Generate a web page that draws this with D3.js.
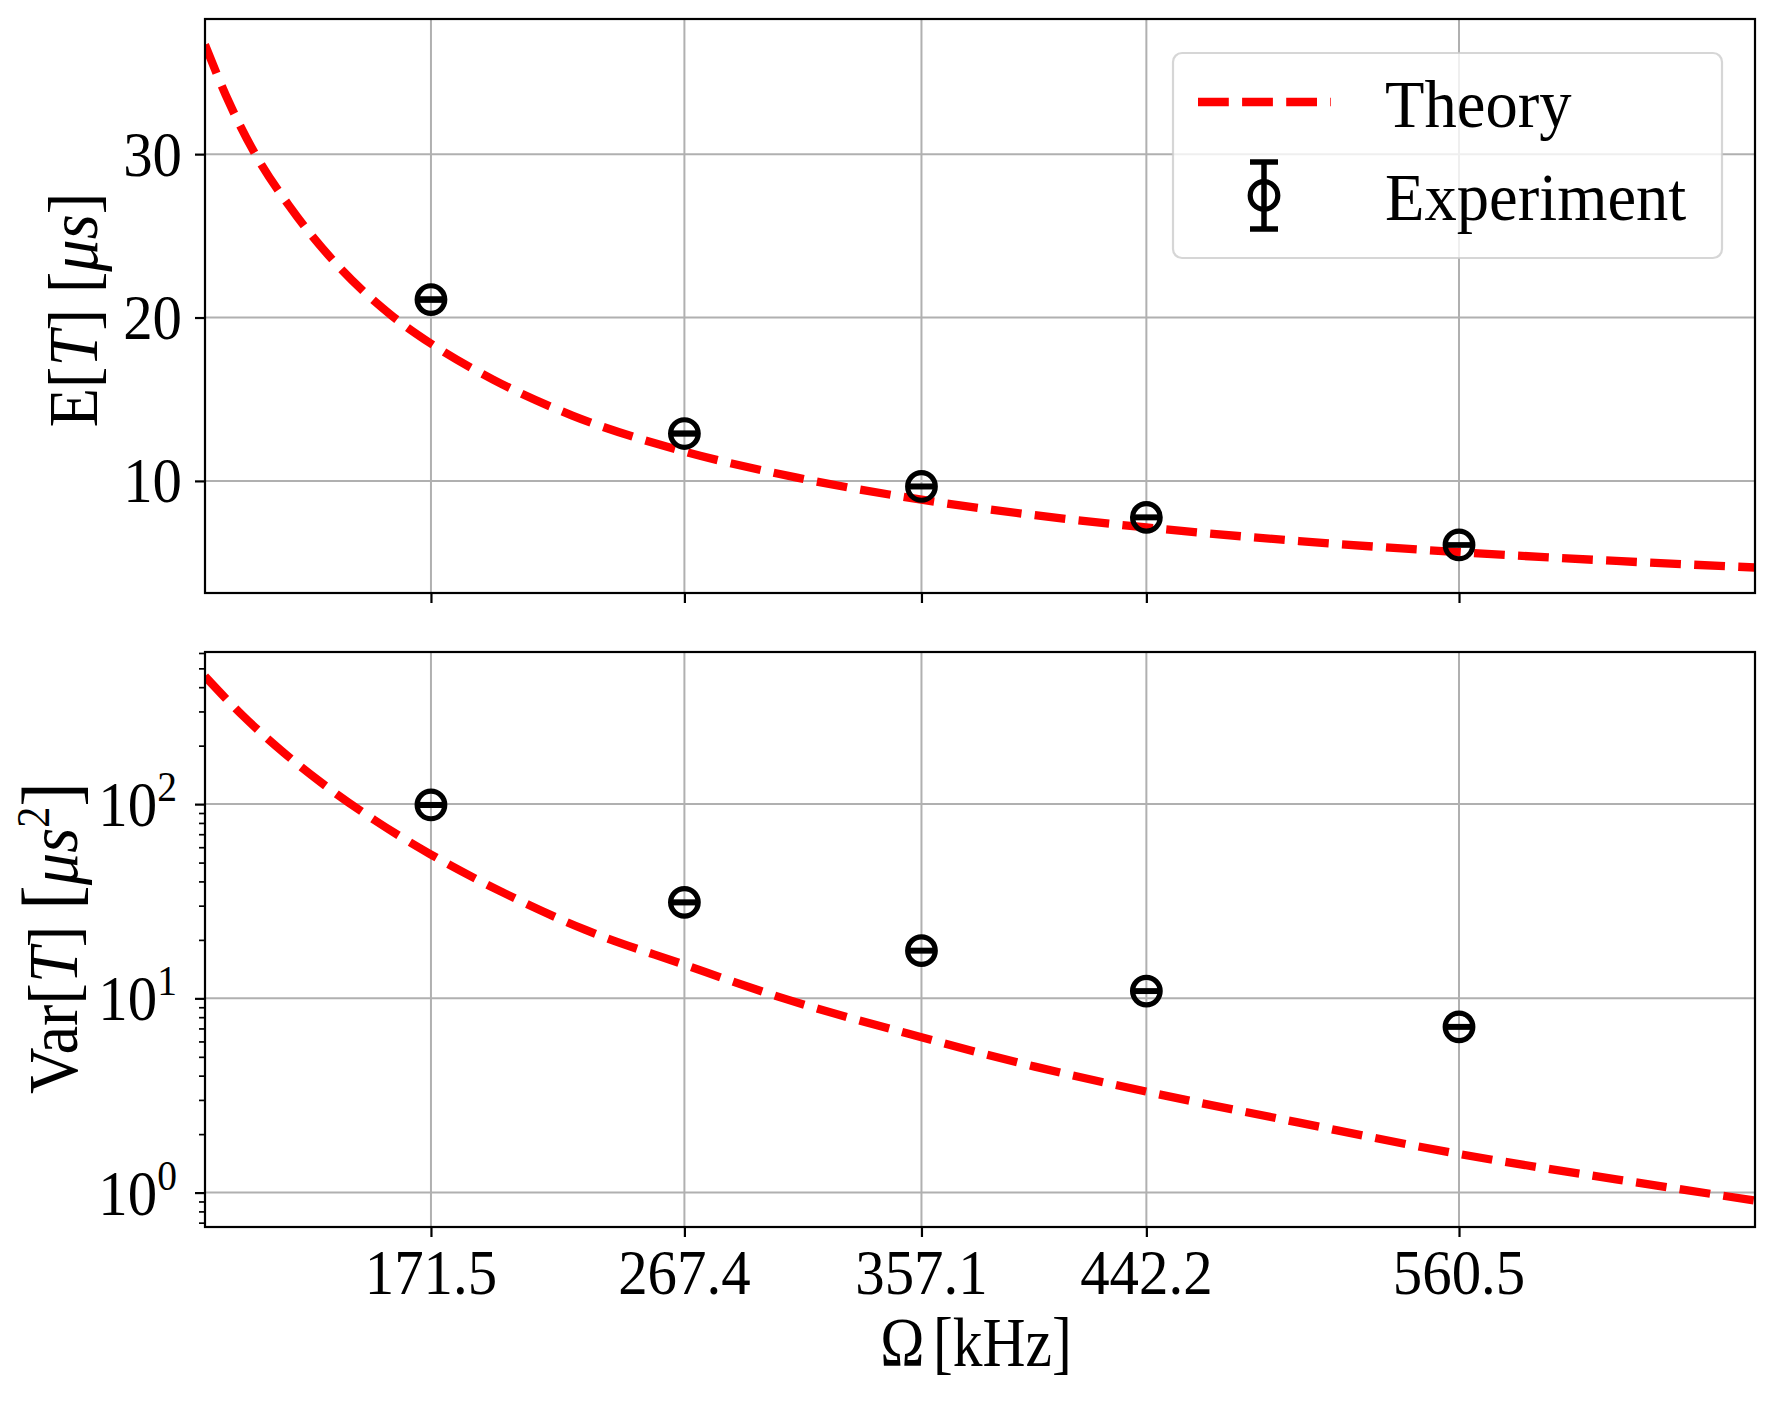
<!DOCTYPE html>
<html>
<head>
<meta charset="utf-8">
<script src="https://cdn.jsdelivr.net/npm/d3@7"></script>
<style>
  body { margin: 0; background: #fff; }
  text { font-family: 'Liberation Serif', 'DejaVu Serif', serif; fill: #000; }
</style>
</head>
<body>
<svg id="chart"></svg>
<script>
// x positions of the measurements (kHz), also the x tick labels
var omegaTicks = [171.5, 267.4, 357.1, 442.2, 560.5];
var omegaLabels = ['171.5', '267.4', '357.1', '442.2', '560.5'];

// experiment
var expMean = [21.1, 12.9, 9.66, 7.77, 6.08];
var expMeanErr = [0.05, 0.04, 0.03, 0.03, 0.02];
var expVar = [99, 31.2, 17.6, 10.9, 7.13];
var expVarErr = [0.6, 0.2, 0.1, 0.06, 0.04];

// theory curve
var theoryOmega = [86, 95, 105, 118, 135, 156, 171.5, 195, 225, 267.4, 310, 357.1, 400, 442.2, 500, 560.5, 620, 672.5];
var theoryMean = [36.7, 33.2, 30.0, 26.8, 23.4, 20.2, 18.4, 16.2, 14.0, 11.8, 10.2, 8.85, 7.9, 7.15, 6.32, 5.64, 5.10, 4.70];
var theoryVarOmega = [86, 100, 115, 130, 150, 171.5, 200, 230, 267.4, 300, 357.1, 400, 442.2, 500, 560.5, 620, 672.5];
var theoryVar = [455, 288, 188, 129, 83, 55, 34.4, 22.5, 14.9, 10.5, 6.3, 4.45, 3.31, 2.29, 1.58, 1.17, 0.91];

var meanTicks = [10, 20, 30];
var varTicks = [1, 10, 100];
var varTickExp = ['0', '1', '2'];

var width = 1774;
var height = 1403;
var left = 205, right = 1755;
var top1 = 19, bottom1 = 593;
var top2 = 652, bottom2 = 1227;

var svg = d3.select('#chart')
    .attr('width', width)
    .attr('height', height);

svg.append('rect').attr('width', width).attr('height', height).attr('fill', '#fff');

var x = d3.scaleLinear().domain([86, 672.5]).range([left, right]);
var yMean = d3.scaleLinear().domain([3.14, 38.27]).range([bottom1, top1]);
var yVar = d3.scaleLog().domain([0.665, 607]).range([bottom2, top2]);

var defs = svg.append('defs');
defs.append('clipPath').attr('id', 'clip1').append('rect')
    .attr('x', left).attr('y', top1).attr('width', right - left).attr('height', bottom1 - top1);
defs.append('clipPath').attr('id', 'clip2').append('rect')
    .attr('x', left).attr('y', top2).attr('width', right - left).attr('height', bottom2 - top2);

function squish(sx) {
    return function(px, py) { return 'translate(' + px + ',' + py + ') scale(' + sx + ',1)'; };
}
var tickT = squish(0.92);

function drawPanel(y, yTop, yBottom, yTicks, clipId, thOmega, thVals, eVals, eErr) {
    var g = svg.append('g');

    // grid
    g.selectAll('.vgrid').data(omegaTicks).enter().append('line')
        .attr('x1', function(d) { return x(d); }).attr('x2', function(d) { return x(d); })
        .attr('y1', yTop).attr('y2', yBottom)
        .attr('stroke', '#b0b0b0').attr('stroke-width', 2);
    g.selectAll('.hgrid').data(yTicks).enter().append('line')
        .attr('x1', left).attr('x2', right)
        .attr('y1', function(d) { return y(d); }).attr('y2', function(d) { return y(d); })
        .attr('stroke', '#b0b0b0').attr('stroke-width', 2);

    var data = g.append('g').attr('clip-path', 'url(#' + clipId + ')');

    var line = d3.line()
        .x(function(d, i) { return x(thOmega[i]); })
        .y(function(d) { return y(d); })
        .curve(d3.curveMonotoneX);

    data.append('path')
        .attr('d', line(thVals))
        .attr('fill', 'none')
        .attr('stroke', '#ff0000')
        .attr('stroke-width', 8.3)
        .attr('stroke-dasharray', '30.8,13.3');

    // error bars + open circles
    var pts = data.selectAll('.pt').data(eVals).enter().append('g');
    pts.append('line')
        .attr('x1', function(d, i) { return x(omegaTicks[i]); })
        .attr('x2', function(d, i) { return x(omegaTicks[i]); })
        .attr('y1', function(d, i) { return y(d - eErr[i]); })
        .attr('y2', function(d, i) { return y(d + eErr[i]); })
        .attr('stroke', '#000').attr('stroke-width', 5.5);
    [-1, 1].forEach(function(s) {
        pts.append('line')
            .attr('x1', function(d, i) { return x(omegaTicks[i]) - 14; })
            .attr('x2', function(d, i) { return x(omegaTicks[i]) + 14; })
            .attr('y1', function(d, i) { return y(d + s * eErr[i]); })
            .attr('y2', function(d, i) { return y(d + s * eErr[i]); })
            .attr('stroke', '#000').attr('stroke-width', 5);
    });
    pts.append('circle')
        .attr('cx', function(d, i) { return x(omegaTicks[i]); })
        .attr('cy', function(d) { return y(d); })
        .attr('r', 13.8)
        .attr('fill', 'none')
        .attr('stroke', '#000')
        .attr('stroke-width', 5.2);

    // spines
    g.append('rect')
        .attr('x', left).attr('y', yTop)
        .attr('width', right - left).attr('height', yBottom - yTop)
        .attr('fill', 'none').attr('stroke', '#000').attr('stroke-width', 2.2);

    // ticks
    var gx = g.append('g').attr('transform', 'translate(0,' + yBottom + ')')
        .call(d3.axisBottom(x).tickValues(omegaTicks).tickSize(10).tickFormat(''));
    var gy = g.append('g').attr('transform', 'translate(' + left + ',0)')
        .call(d3.axisLeft(y).tickValues(yTicks).tickSize(10).tickFormat(''));
    [gx, gy].forEach(function(a) {
        a.select('.domain').remove();
        a.selectAll('line').attr('stroke', '#000').attr('stroke-width', 2.2);
    });
    return g;
}

// top panel
var g1 = drawPanel(yMean, top1, bottom1, meanTicks, 'clip1', theoryOmega, theoryMean, expMean, expMeanErr);
g1.selectAll('.ylab').data(meanTicks).enter().append('text')
    .attr('transform', function(d) { return tickT(182, yMean(d) + 21.5); })
    .attr('text-anchor', 'end')
    .style('font-size', '64px')
    .text(function(d) { return d; });

var yl1 = g1.append('text')
    .attr('transform', 'translate(97,310) rotate(-90) scale(0.92,1)')
    .attr('text-anchor', 'middle')
    .style('font-size', '70px');
yl1.append('tspan').text('E[');
yl1.append('tspan').style('font-style', 'italic').text('T');
yl1.append('tspan').text('] [');
yl1.append('tspan').style('font-style', 'italic').text('μs');
yl1.append('tspan').text(']');

// bottom panel
var g2 = drawPanel(yVar, top2, bottom2, varTicks, 'clip2', theoryVarOmega, theoryVar, expVar, expVarErr);

var minorVals = [];
[-1, 0, 1, 2].forEach(function(k) {
    for (var m = 2; m <= 9; m++) {
        var v = m * Math.pow(10, k);
        if (v > 0.665 && v < 607) minorVals.push(v);
    }
});
var gm = g2.append('g').attr('transform', 'translate(' + left + ',0)')
    .call(d3.axisLeft(yVar).tickValues(minorVals).tickSize(6).tickFormat(''));
gm.select('.domain').remove();
gm.selectAll('line').attr('stroke', '#000').attr('stroke-width', 1.7);

var lt = g2.selectAll('.ylab').data(varTicks).enter().append('text')
    .attr('transform', function(d) { return tickT(177, yVar(d) + 22); })
    .attr('text-anchor', 'end')
    .style('font-size', '64px');
lt.append('tspan').text('10');
lt.append('tspan').attr('dy', -25).style('font-size', '43px')
    .text(function(d, i) { return varTickExp[i]; });

g2.selectAll('.xlab').data(omegaTicks).enter().append('text')
    .attr('transform', function(d) { return tickT(x(d), 1294); })
    .attr('text-anchor', 'middle')
    .style('font-size', '64px')
    .text(function(d, i) { return omegaLabels[i]; });

var yl2 = g2.append('text')
    .attr('transform', 'translate(77,938) rotate(-90) scale(0.92,1)')
    .attr('text-anchor', 'middle')
    .style('font-size', '70px');
yl2.append('tspan').text('Var[');
yl2.append('tspan').style('font-style', 'italic').text('T');
yl2.append('tspan').text('] ');
yl2.append('tspan').style('font-size', '80px').text('[');
yl2.append('tspan').style('font-style', 'italic').text('μs');
yl2.append('tspan').attr('dy', -28).style('font-size', '46px').text('2');
yl2.append('tspan').attr('dy', 28).style('font-size', '80px').text(']');

var xl = g2.append('text')
    .attr('transform', 'translate(976,1366) scale(0.85,1)')
    .attr('text-anchor', 'middle')
    .style('font-size', '70px');
xl.append('tspan').text('Ω');
xl.append('tspan').attr('dx', 10).text('[kHz]');

// legend
var leg = svg.append('g');
leg.append('rect')
    .attr('x', 1173).attr('y', 53).attr('width', 549).attr('height', 205)
    .attr('rx', 9).attr('ry', 9)
    .attr('fill', '#fff').attr('fill-opacity', 0.8)
    .attr('stroke', '#cccccc').attr('stroke-opacity', 0.8).attr('stroke-width', 2.2);
leg.append('line')
    .attr('x1', 1198).attr('x2', 1331).attr('y1', 102).attr('y2', 102)
    .attr('stroke', '#ff0000').attr('stroke-width', 8.3).attr('stroke-dasharray', '30.8,13.3');
leg.append('line')
    .attr('x1', 1264).attr('x2', 1264).attr('y1', 162).attr('y2', 229)
    .attr('stroke', '#000').attr('stroke-width', 5.5);
[162, 229].forEach(function(cy) {
    leg.append('line').attr('x1', 1250).attr('x2', 1278).attr('y1', cy).attr('y2', cy)
        .attr('stroke', '#000').attr('stroke-width', 5.5);
});
leg.append('circle').attr('cx', 1264).attr('cy', 195.5).attr('r', 13.8)
    .attr('fill', 'none').attr('stroke', '#000').attr('stroke-width', 5.2);
leg.append('text').attr('transform', 'translate(1385,127) scale(0.95,1)')
    .style('font-size', '68px').text('Theory');
leg.append('text').attr('transform', 'translate(1385,220) scale(0.95,1)')
    .style('font-size', '68px').text('Experiment');
</script>
</body>
</html>
